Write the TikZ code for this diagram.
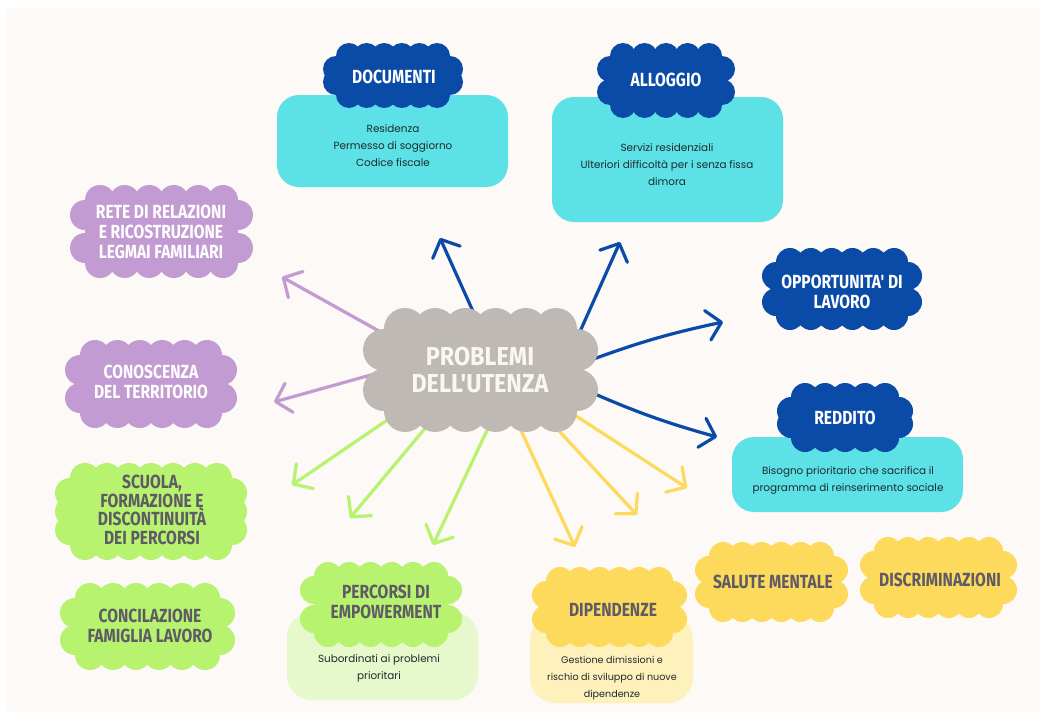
\documentclass[tikz,border=0pt]{standalone}
\usepackage{fontspec}
\usetikzlibrary{arrows.meta}
\newfontfamily\tf[FakeStretch=0.82]{Fira Sans}
\newfontfamily\cf[FakeStretch=0.9]{Fira Sans}
\newfontfamily\bodyf{Poppins}
\definecolor{bgc}{HTML}{FCF9F6}
\definecolor{dblue}{HTML}{0B4BA8}
\definecolor{cyanb}{HTML}{5CE1E6}
\definecolor{lav}{HTML}{C29BD2}
\definecolor{lime}{HTML}{B7F36E}
\definecolor{palelime}{HTML}{E6F8CC}
\definecolor{sun}{HTML}{FDDA5C}
\definecolor{palesun}{HTML}{FFF1BC}
\definecolor{stone}{HTML}{BFB9B5}
\definecolor{graytxt}{HTML}{5E5B67}
\definecolor{bodytxt}{HTML}{1E2B2B}
\definecolor{cloudtxt}{HTML}{FAF7F2}
\newcommand{\mycloud}[6]{%
  \fill[#6] ({#1+#5},{#2+#5}) rectangle ({#3-#5},{#4-#5});
  \pgfmathsetmacro{\cwA}{#3-#1-4*#5}
  \pgfmathtruncatemacro{\cnA}{max(1,round(\cwA/(1.5*#5)))}
  \pgfmathsetmacro{\csA}{\cwA/\cnA}
  \foreach \i in {0,...,\cnA}{
    \fill[#6] ({#1+2*#5+\i*\csA},{#2+#5}) circle[radius=#5];
    \fill[#6] ({#1+2*#5+\i*\csA},{#4-#5}) circle[radius=#5];
  }
  \pgfmathsetmacro{\chA}{#4-#2-4*#5}
  \pgfmathtruncatemacro{\cmA}{max(1,round(\chA/(1.5*#5)))}
  \pgfmathsetmacro{\ctA}{\chA/\cmA}
  \foreach \j in {0,...,\cmA}{
    \fill[#6] ({#1+#5},{#2+2*#5+\j*\ctA}) circle[radius=#5];
    \fill[#6] ({#3-#5},{#2+2*#5+\j*\ctA}) circle[radius=#5];
  }
}
\tikzset{
  ctitle/.style={font=\tf\bfseries\fontsize{19}{20}\selectfont, align=center, inner sep=0},
  wtitle/.style={ctitle, text=white},
  gtitle/.style={ctitle, text=graytxt},
  body/.style={font=\bodyf\fontsize{10.4}{17}\selectfont, text=bodytxt, align=center, inner sep=0},
  box/.style={rounded corners=22, inner sep=0},
  arr/.style={line width=3.2, line cap=round, -{Straight Barb[length=14pt,width=30pt,round]}},
}
\begin{document}
\begin{tikzpicture}[x=1pt,y=-1pt]
\useasboundingbox (0,0) rectangle (1046,717);
\fill[white] (0,0) rectangle (1046,717);
\fill[bgc] (6,8) rectangle (1040,712);

% arrow coordinates
\coordinate (p1s) at (395,340); \coordinate (p1e) at (282,277);
\coordinate (p2s) at (378,373); \coordinate (p2e) at (274,402);
\coordinate (b1s) at (476,318); \coordinate (b1e) at (440,238);
\coordinate (b2s) at (578,336); \coordinate (b2e) at (620,242);
\coordinate (b3s) at (588,361); \coordinate (b3e) at (723,322);
\coordinate (b4s) at (588,391); \coordinate (b4e) at (717,437);
\coordinate (g1s) at (396,414); \coordinate (g1e) at (292,485);
\coordinate (g2s) at (432,420); \coordinate (g2e) at (350,518);
\coordinate (g3s) at (490,424); \coordinate (g3e) at (433,545);
\coordinate (y1s) at (518,424); \coordinate (y1e) at (575,547);
\coordinate (y2s) at (547,418); \coordinate (y2e) at (637,515);
\coordinate (y3s) at (570,412); \coordinate (y3e) at (687,488);

\draw[arr, lav] (p1s) -- (p1e);
\draw[arr, lav] (p2s) -- (p2e);
\draw[arr, dblue] (b1s) -- (b1e);
\draw[arr, dblue] (b2s) -- (b2e);
\draw[arr, dblue] (b3s) to[bend left=4] (b3e);
\draw[arr, dblue] (b4s) to[bend right=4] (b4e);
\draw[arr, lime] (g1s) -- (g1e);
\draw[arr, lime] (g2s) -- (g2e);
\draw[arr, lime] (g3s) -- (g3e);
\draw[arr, sun] (y1s) -- (y1e);
\draw[arr, sun] (y2s) -- (y2e);
\draw[arr, sun] (y3s) -- (y3e);

% boxes
\node[box, fill=cyanb, minimum width=231, minimum height=92] (docbox) at (392.5,141) {};
\node[body] (doctext) at (393,146) {Residenza\\Permesso di soggiorno\\Codice fiscale};
\node[box, fill=cyanb, minimum width=231, minimum height=125] (allbox) at (667.5,159.5) {};
\node[body] (alltext) at (667,165) {Servizi residenziali\\Ulteriori difficoltà per i senza fissa\\dimora};
\node[box, fill=cyanb, minimum width=231, minimum height=75] (redbox) at (847.5,474.5) {};
\node[body] (redtext) at (848,480) {Bisogno prioritario che sacrifica il\\programma di reinserimento sociale};
\node[box, rounded corners=25, fill=palelime, minimum width=191, minimum height=88] (percbox) at (382.5,656) {};
\node[body] (perctext) at (379,668.5) {Subordinati ai problemi\\prioritari};
\node[box, rounded corners=25, fill=palesun, minimum width=163, minimum height=88] (dipbox) at (611.5,659) {};
\node[body, font=\bodyf\fontsize{9.6}{17}\selectfont] (diptext) at (612,678) {Gestione dimissioni e\\rischio di sviluppo di nuove\\dipendenze};

% clouds
\mycloud{363}{308}{598}{432}{21}{stone}
\node[font=\cf\bfseries\fontsize{26}{27}\selectfont, text=cloudtxt, align=center, inner sep=0] (pu) at (480,370) {PROBLEMI\\DELL'UTENZA};

\mycloud{323}{43}{463}{108}{13}{dblue}
\node[wtitle] (doc) at (394,77) {DOCUMENTI};
\mycloud{597}{43}{735}{118}{13}{dblue}
\node[wtitle] (all) at (666,80) {ALLOGGIO};
\mycloud{762}{248}{922}{330}{14}{dblue}
\node[wtitle] (opp) at (842,292) {OPPORTUNITA' DI\\LAVORO};
\mycloud{777}{383}{913}{452}{14}{dblue}
\node[wtitle] (red) at (845,418) {REDDITO};

\mycloud{70}{185}{253}{278}{15}{lav}
\node[wtitle] (rete) at (161,232) {RETE DI RELAZIONI\\E RICOSTRUZIONE\\LEGMAI FAMILIARI};
\mycloud{65}{340}{237}{428}{15}{lav}
\node[wtitle] (cono) at (151,382) {CONOSCENZA\\DEL TERRITORIO};

\mycloud{55}{463}{247}{560}{15}{lime}
\node[gtitle, font=\tf\bfseries\fontsize{19}{18.5}\selectfont] (scu) at (152,510) {SCUOLA,\\FORMAZIONE E\\DISCONTINUITÀ\\DEI PERCORSI};
\mycloud{60}{583}{235}{670}{15}{lime}
\node[gtitle] (conc) at (150,626) {CONCILAZIONE\\FAMIGLIA LAVORO};
\mycloud{300}{562}{462}{647}{14}{lime}
\node[gtitle] (perc) at (386,602) {PERCORSI DI\\EMPOWERMENT};

\mycloud{532}{567}{687}{647}{14}{sun}
\node[gtitle] (dip) at (613,610) {DIPENDENZE};
\mycloud{695}{542}{848}{622}{14}{sun}
\node[gtitle] (sal) at (773,582) {SALUTE MENTALE};
\mycloud{860}{537}{1017}{618}{14}{sun}
\node[gtitle] (dis) at (940,580) {DISCRIMINAZIONI};
\end{tikzpicture}
\end{document}
